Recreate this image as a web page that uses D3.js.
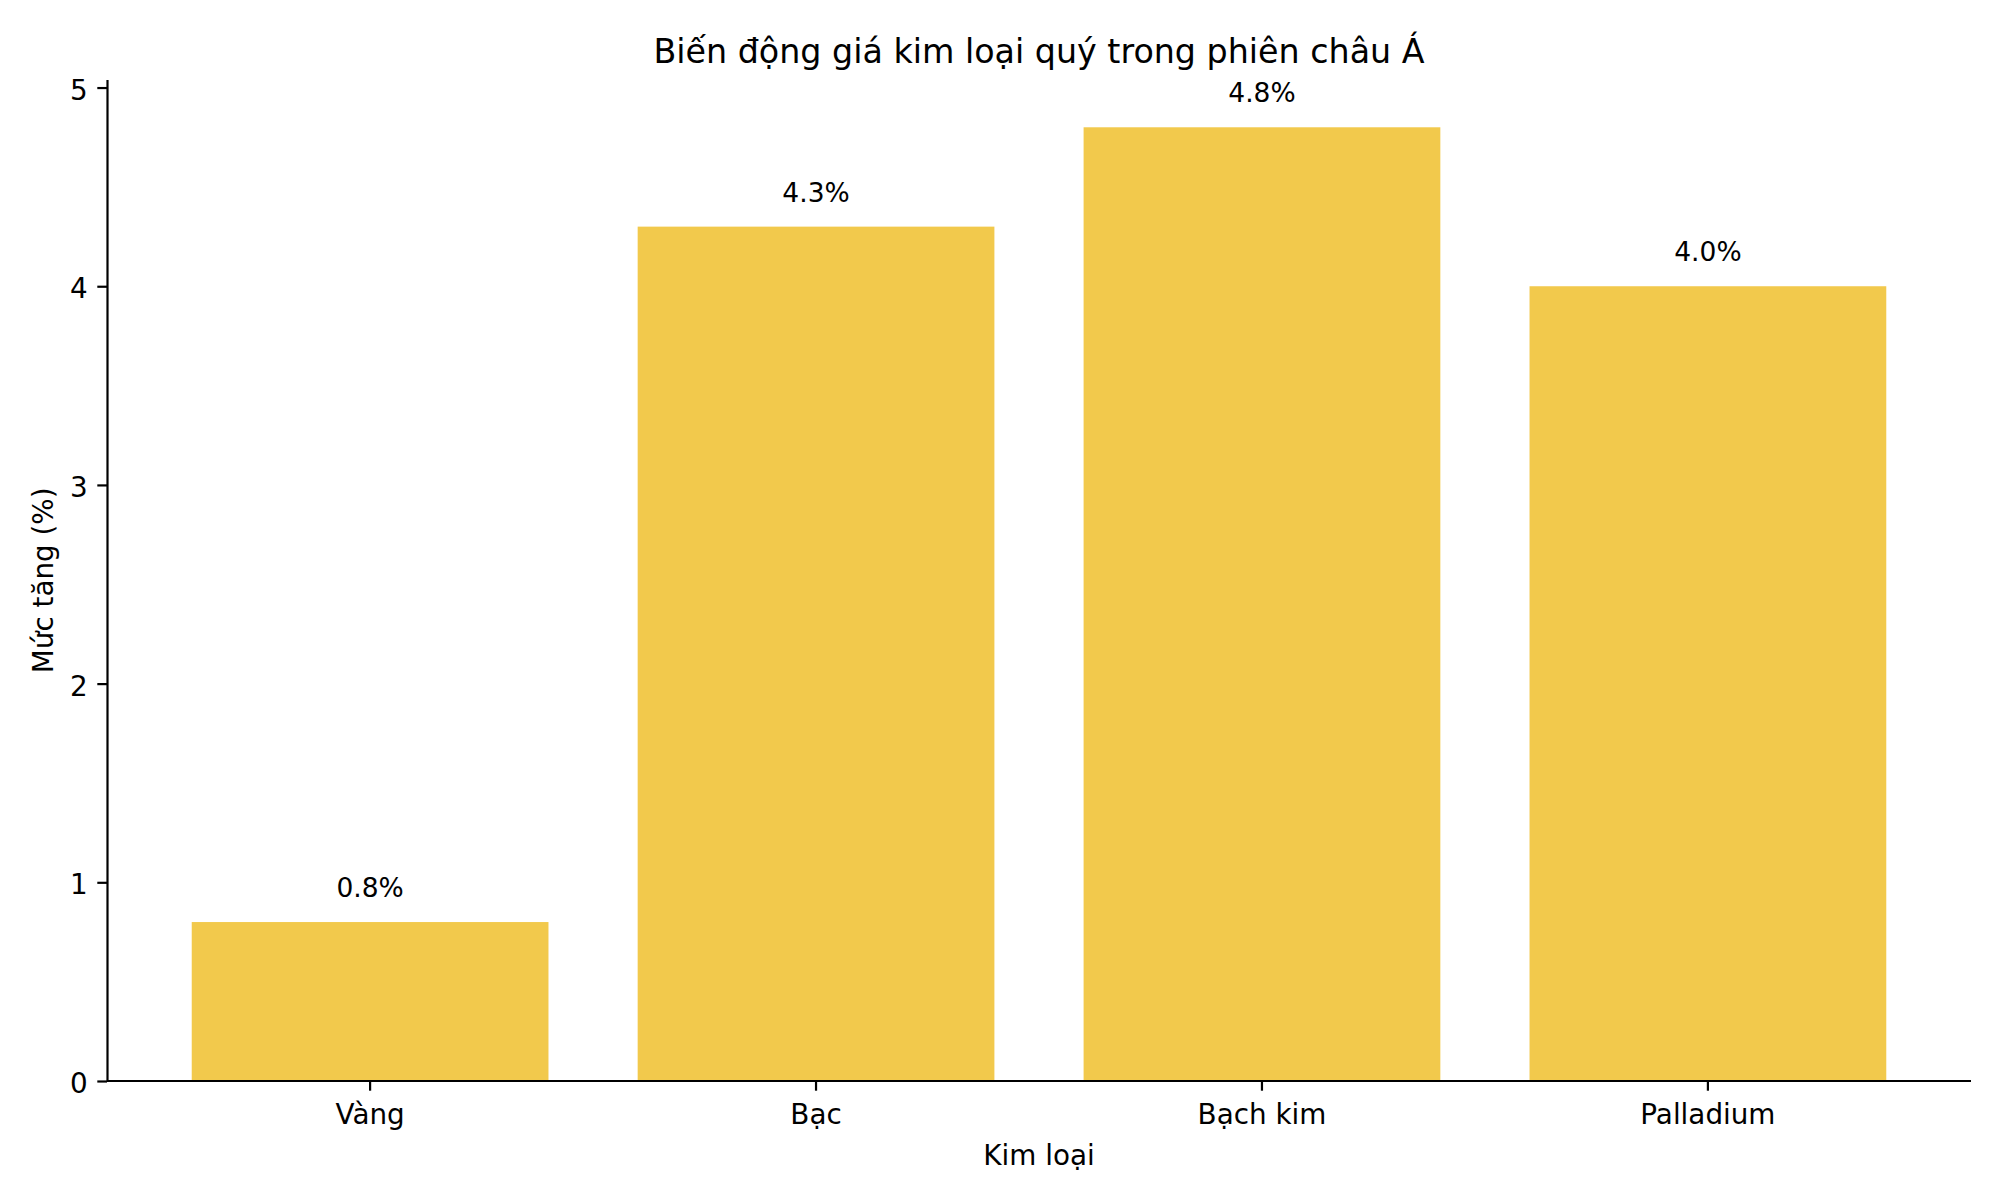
<!DOCTYPE html>
<html>
<head>
<meta charset="utf-8">
<script src="https://cdn.jsdelivr.net/npm/d3@7/dist/d3.min.js"></script>
<style>
  html, body { margin: 0; padding: 0; background: #ffffff; }
  svg { display: block; font-family: "DejaVu Sans", sans-serif; }
</style>
</head>
<body>
<svg id="chart" width="2000" height="1200"></svg>
<script>
const categories = ["Vàng", "Bạc", "Bạch kim", "Palladium"];
const values = [0.8, 4.3, 4.8, 4.0];
const yTicks = [0, 1, 2, 3, 4, 5];
const titleText = "Biến động giá kim loại quý trong phiên châu Á";
const xLabelText = "Kim loại";
const yLabelText = "Mức tăng (%)";

const W = 2000, H = 1200;
const margin = { left: 107, right: 2000 - 1971, top: 79.6, bottom: 1200 - 1081 };
const barColor = "#F2C94C";
const lineW = 2.2;
const tickLen = 9.7;
const tickFont = 27.8;

const svg = d3.select("#chart");
svg.append("rect").attr("width", W).attr("height", H).attr("fill", "#ffffff");

const x = d3.scaleBand()
  .domain(categories)
  .range([margin.left, W - margin.right])
  .paddingInner(0.2)
  .paddingOuter(0.19);

const yMax = d3.max(values) * 1.05;
const y = d3.scaleLinear().domain([0, yMax]).range([H - margin.bottom, margin.top]);

// bars
svg.append("g").selectAll("rect")
  .data(values)
  .join("rect")
  .attr("x", (d, i) => x(categories[i]))
  .attr("width", x.bandwidth())
  .attr("y", d => y(d))
  .attr("height", d => y(0) - y(d))
  .attr("fill", barColor);

// value labels
svg.append("g").selectAll("text")
  .data(values)
  .join("text")
  .attr("x", (d, i) => x(categories[i]) + x.bandwidth() / 2)
  .attr("y", d => y(d) - 25)
  .attr("text-anchor", "middle")
  .attr("font-size", 26.5)
  .attr("fill", "#000")
  .text(d => d.toFixed(1) + "%");

// x axis
const xAxis = svg.append("g")
  .attr("transform", `translate(0,${y(0)})`)
  .call(d3.axisBottom(x).tickSize(tickLen).tickPadding(9.7).tickSizeOuter(0));
xAxis.select(".domain").attr("stroke", "#000").attr("stroke-width", lineW)
  .attr("d", `M${margin.left},0H${W - margin.right}`);
xAxis.selectAll(".tick line").attr("stroke", "#000").attr("stroke-width", lineW);
xAxis.selectAll(".tick text")
  .attr("font-size", tickFont)
  .attr("font-family", "DejaVu Sans")
  .attr("fill", "#000")
  .attr("dy", null)
  .attr("y", 43);

// y axis
const yAxis = svg.append("g")
  .attr("transform", `translate(${margin.left},0)`)
  .call(d3.axisLeft(y).tickValues(yTicks).tickFormat(d3.format("d")).tickSize(tickLen).tickPadding(9.7).tickSizeOuter(0));
yAxis.select(".domain").attr("stroke", "#000").attr("stroke-width", lineW);
yAxis.selectAll(".tick line").attr("stroke", "#000").attr("stroke-width", lineW);
yAxis.selectAll(".tick text")
  .attr("font-size", tickFont)
  .attr("font-family", "DejaVu Sans")
  .attr("fill", "#000")
  .attr("dy", null)
  .attr("y", 11.5);

// title
const cx = (margin.left + (W - margin.right)) / 2;
svg.append("text")
  .attr("x", cx)
  .attr("y", 63.3)
  .attr("text-anchor", "middle")
  .attr("font-size", 33.3)
  .attr("fill", "#000")
  .text(titleText);

// x label
svg.append("text")
  .attr("x", cx)
  .attr("y", 1165)
  .attr("text-anchor", "middle")
  .attr("font-size", 27.8)
  .attr("fill", "#000")
  .text(xLabelText);

// y label
const cy = (margin.top + (H - margin.bottom)) / 2;
svg.append("text")
  .attr("transform", `translate(53,${cy}) rotate(-90)`)
  .attr("text-anchor", "middle")
  .attr("font-size", 27.8)
  .attr("fill", "#000")
  .text(yLabelText);
</script>
</body>
</html>
